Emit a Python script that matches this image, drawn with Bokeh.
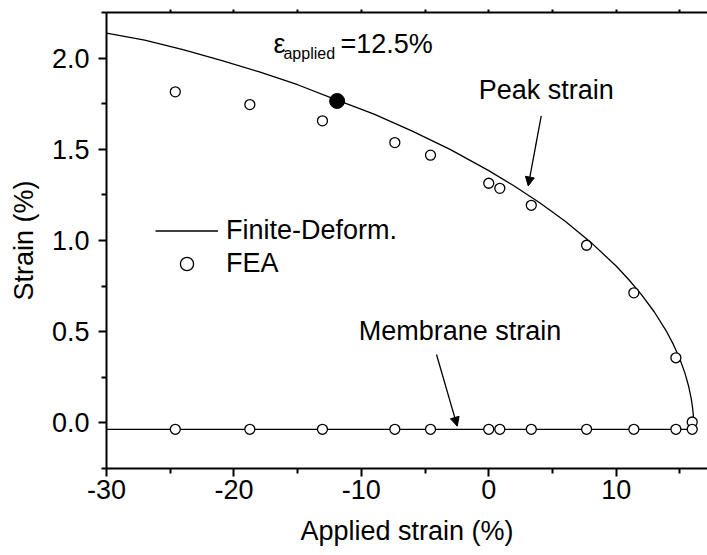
from bokeh.plotting import figure
from bokeh.models import (Range1d, LinearAxis, FixedTicker, Arrow, NormalHead,
                          Legend, LegendItem)
from bokeh.core.properties import value
from bokeh.embed import file_html
from bokeh.resources import INLINE

# ---- data ----
curve_x = [-30.0, -27.0, -24.0, -21.0, -18.0, -15.0, -12.0, -9.0, -6.0, -3.0, 0.0,
           2.0, 4.0, 6.0, 8.0, 10.0, 11.0, 12.0, 13.0, 14.0, 14.5, 15.0, 15.4,
           15.7, 15.9, 16.0, 16.06, 16.1]
curve_y = [2.137, 2.099, 2.047, 1.988, 1.924, 1.854, 1.772, 1.693, 1.600, 1.498, 1.383,
           1.299, 1.207, 1.105, 0.991, 0.860, 0.785, 0.702, 0.608, 0.496, 0.429, 0.350, 0.273,
           0.198, 0.130, 0.082, 0.039, -0.035]

membrane_x = [-30.0, 16.1]
membrane_y = [-0.035, -0.035]

fea_x = [-24.6, -18.75, -13.05, -7.37, -4.57, 0.0, 0.87, 3.34, 7.68, 11.39, 14.69, 15.97]
fea_peak_y = [1.815, 1.745, 1.656, 1.537, 1.468, 1.314, 1.286, 1.193, 0.974, 0.713, 0.357, 0.005]
fea_membrane_y = [-0.035, -0.035, -0.035, -0.035, -0.035, -0.035,
                  -0.035, -0.035, -0.035, -0.035, -0.035, -0.035]

marked_x = [-11.9]
marked_y = [1.765]

x_ticks = [-30, -20, -10, 0, 10]
x_tick_labels = ["-30", "-20", "-10", "0", "10"]
x_minor = [-25, -15, -5, 5, 15]
y_ticks = [0.0, 0.5, 1.0, 1.5, 2.0]
y_tick_labels = ["0.0", "0.5", "1.0", "1.5", "2.0"]
y_minor = [-0.25, 0.25, 0.75, 1.25, 1.75, 2.25]
top_ticks = [-25, -20, -15, -10, -5, 0, 5, 10, 15]

FONT = "Liberation Sans"
FS = "27px"

p = figure(width=707, height=555, output_backend="svg", toolbar_location=None,
           x_range=Range1d(-30, 17.17), y_range=Range1d(-0.25, 2.25),
           x_axis_location=None, y_axis_location=None,
           min_border_left=106, min_border_right=0, min_border_top=12, min_border_bottom=87)
p.grid.visible = False
p.outline_line_color = None
p.background_fill_color = "white"
p.border_fill_color = "white"

def style_axis(ax):
    ax.axis_line_width = 2
    ax.axis_line_color = "black"
    ax.major_tick_line_width = 2
    ax.minor_tick_line_width = 2
    ax.major_tick_line_color = "black"
    ax.minor_tick_line_color = "black"
    ax.major_tick_in = 0
    ax.minor_tick_in = 0
    ax.major_tick_out = 8
    ax.minor_tick_out = 5
    ax.major_label_text_font = FONT
    ax.major_label_text_font_size = FS
    ax.major_label_text_color = "black"
    ax.axis_label_text_font = FONT
    ax.axis_label_text_font_size = FS
    ax.axis_label_text_font_style = "normal"
    ax.axis_label_text_color = "black"

xaxis = LinearAxis(ticker=FixedTicker(ticks=x_ticks, minor_ticks=x_minor),
                   axis_label="Applied strain (%)")
xaxis.major_label_overrides = dict(zip(x_ticks, x_tick_labels))
style_axis(xaxis)
xaxis.major_label_standoff = 3
xaxis.axis_label_standoff = 14
p.add_layout(xaxis, "below")

yaxis = LinearAxis(ticker=FixedTicker(ticks=y_ticks, minor_ticks=y_minor),
                   axis_label="Strain (%)")
yaxis.major_label_overrides = dict(zip(y_ticks, y_tick_labels))
style_axis(yaxis)
yaxis.major_label_standoff = 9
yaxis.axis_label_standoff = 10
p.add_layout(yaxis, "left")

topaxis = LinearAxis(ticker=FixedTicker(ticks=top_ticks))
style_axis(topaxis)
topaxis.major_tick_out = 3
topaxis.minor_tick_out = 0
topaxis.major_label_text_color = None
topaxis.major_label_text_font_size = "1px"
topaxis.major_label_standoff = 0
p.add_layout(topaxis, "above")

# curves
curve_r = p.line(curve_x, curve_y, line_color="black", line_width=1.3)
p.line(membrane_x, membrane_y, line_color="black", line_width=1.3)

# FEA points
fea_r = p.scatter(fea_x, fea_peak_y, marker="circle", size=10, fill_color="white",
                  line_color="black", line_width=1.3)
p.scatter(fea_x, fea_membrane_y, marker="circle", size=10, fill_color="white",
          line_color="black", line_width=1.3)
p.scatter(marked_x, marked_y, marker="circle", size=15, fill_color="black",
          line_color="black")

# annotations
def note(x, y, s, size=FS):
    p.text(x=[x], y=[y], text=[s], text_font=value(FONT),
           text_font_size=value(size), text_baseline="alphabetic", text_align="left",
           text_color="black")

note(-0.78, 1.824, "Peak strain")
note(-10.2, 0.506, "Membrane strain")
note(-16.89, 2.076, "\u03b5")
note(-16.11, 2.024, "applied", "16px")
note(-11.63, 2.080, "=12.5%")

p.add_layout(Arrow(end=NormalHead(size=9, fill_color="black", line_color="black"),
                   x_start=4.12, y_start=1.683, x_end=3.10, y_end=1.299,
                   line_color="black", line_width=1.3))
p.add_layout(Arrow(end=NormalHead(size=9, fill_color="black", line_color="black"),
                   x_start=-4.10, y_start=0.375, x_end=-2.47, y_end=-0.018,
                   line_color="black", line_width=1.3))

legend = Legend(items=[LegendItem(label="Finite-Deform.", renderers=[curve_r]),
                       LegendItem(label="FEA", renderers=[fea_r])],
                location=(49, 188), glyph_width=63, glyph_height=33, label_height=33,
                label_standoff=8, spacing=0, padding=0, margin=0,
                border_line_color=None, background_fill_alpha=0,
                label_text_font=FONT, label_text_font_size=FS, label_text_color="black")
p.add_layout(legend)

open("out.html", "w").write(file_html(p, INLINE))
